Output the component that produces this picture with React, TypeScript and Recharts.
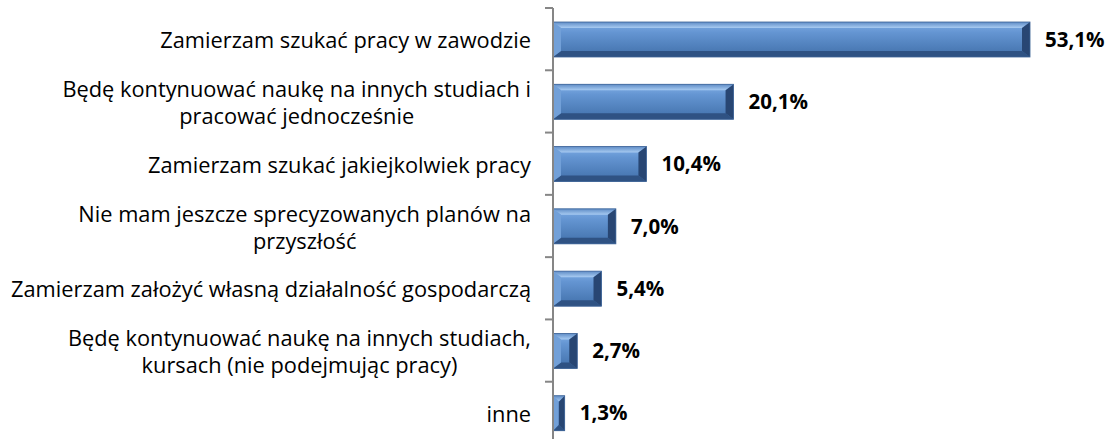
import React from 'react'
import { BarChart, Bar, XAxis, YAxis, LabelList } from 'recharts'

const categories = [
  'Zamierzam szukać pracy w zawodzie',
  'Będę kontynuować naukę na innych studiach i\npracować jednocześnie',
  'Zamierzam szukać jakiejkolwiek pracy',
  'Nie mam jeszcze sprecyzowanych planów na\nprzyszłość',
  'Zamierzam założyć własną działalność gospodarczą',
  'Będę kontynuować naukę na innych studiach,\nkursach (nie podejmując pracy)',
  'inne',
]
const values = [53.1, 20.1, 10.4, 7.0, 5.4, 2.7, 1.3]

const data = categories.map((name, i) => ({ name, value: values[i] }))

const W = 1112
const H = 447
const TOP = 8
const BOTTOM = 3
const AXIS_X = 553
const BAND = (H - TOP - BOTTOM) / categories.length
const FONT = '"Open Sans", "Noto Sans", sans-serif'
const LABEL_SIZE = 21.8
const LINE_H = 27

let ctx: CanvasRenderingContext2D | null = null
function textWidth(s: string) {
  if (!ctx) ctx = document.createElement('canvas').getContext('2d')
  if (!ctx) return s.length * 11
  ctx.font = `${LABEL_SIZE}px "Open Sans"`
  return ctx.measureText(s).width
}

function CategoryTick(props: any) {
  const { y, payload, index } = props
  const lines: string[] = String(payload.value).split('\n')
  const right = AXIS_X - 22
  const blockW = Math.max(...lines.map(textWidth))
  const cx = right - blockW / 2
  const y0 = y - ((lines.length - 1) * LINE_H) / 2
  const top = y - BAND / 2
  const multi = lines.length > 1
  return (
    <g>
      <line x1={AXIS_X - 8} x2={AXIS_X} y1={top} y2={top} stroke="#868686" strokeWidth={2} />
      {index === categories.length - 1 && (
        <line x1={AXIS_X - 8} x2={AXIS_X} y1={top + BAND} y2={top + BAND} stroke="#868686" strokeWidth={2} />
      )}
      <text
        x={multi ? cx : right}
        y={y0}
        textAnchor={multi ? 'middle' : 'end'}
        dominantBaseline="central"
        fontFamily={FONT}
        fontSize={LABEL_SIZE}
        fill="#000"
      >
        {lines.map((l, i) => (
          <tspan key={i} x={multi ? cx : right} dy={i === 0 ? 0 : LINE_H}>
            {l}
          </tspan>
        ))}
      </text>
    </g>
  )
}

function BevelBar(props: any) {
  const { x, y, width, height, index } = props
  if (!width || width <= 0) return null
  const bx = Math.min(8, width / 2)
  const by = Math.min(6, height / 2)
  const r = x + width
  const b = y + height
  const gid = `face${index}`
  const tid = `top${index}`
  return (
    <g>
      <defs>
        <linearGradient id={gid} x1="0" y1="0" x2="0" y2="1">
          <stop offset="0%" stopColor="#80aee6" />
          <stop offset="30%" stopColor="#6495d2" />
          <stop offset="100%" stopColor="#4170aa" />
        </linearGradient>
        <linearGradient id={tid} x1="0" y1="0" x2="0" y2="1">
          <stop offset="0%" stopColor="#5f8cc6" />
          <stop offset="100%" stopColor="#a8cbf2" />
        </linearGradient>
      </defs>
      <rect x={x} y={y} width={width} height={height} fill={`url(#${gid})`} />
      <polygon points={`${x},${y} ${r},${y} ${r - bx},${y + by} ${x + bx},${y + by}`} fill={`url(#${tid})`} />
      <polygon points={`${x},${b} ${r},${b} ${r - bx},${b - by} ${x + bx},${b - by}`} fill="#2f5283" />
      <polygon points={`${x},${y} ${x + bx},${y + by} ${x + bx},${b - by} ${x},${b}`} fill="#72a0d8" />
      <polygon points={`${r},${y} ${r - bx},${y + by} ${r - bx},${b - by} ${r},${b}`} fill="#284673" />
      <rect x={x} y={y} width={width} height={height} fill="none" stroke="#3d6396" strokeWidth={0.8} />
    </g>
  )
}

const fmt = (v: any) => `${Number(v).toFixed(1).replace('.', ',')}%`

export default function App() {
  return (
    <div style={{ position: 'absolute', left: 0, top: 0, background: '#fff' }}>
      <BarChart
        width={W}
        height={H}
        data={data}
        layout="vertical"
        margin={{ top: TOP, right: 20, bottom: BOTTOM, left: 0 }}
        barSize={35}
      >
        <XAxis type="number" domain={[0, 60]} hide />
        <YAxis
          type="category"
          dataKey="name"
          width={AXIS_X}
          tickLine={false}
          axisLine={{ stroke: '#868686', strokeWidth: 2 }}
          tick={<CategoryTick />}
          interval={0}
        />
        <Bar dataKey="value" isAnimationActive={false} shape={<BevelBar />}>
          <LabelList
            dataKey="value"
            position="right"
            offset={15}
            formatter={fmt}
            fill="#000"
            fontFamily={FONT}
            fontWeight="bold"
            fontSize={20.5}
          />
        </Bar>
      </BarChart>
    </div>
  )
}
